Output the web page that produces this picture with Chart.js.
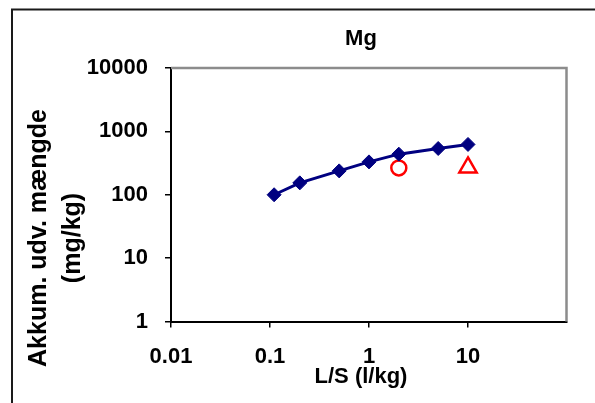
<!DOCTYPE html>
<html>
<head>
<meta charset="utf-8">
<title>Mg</title>
<script src="https://cdn.jsdelivr.net/npm/chart.js@4.4.1/dist/chart.umd.min.js"></script>
<style>
  html, body { margin: 0; padding: 0; background: #fff; }
  #wrap { width: 595px; height: 403px; }
</style>
</head>
<body>
<div id="wrap"><canvas id="chart" width="595" height="403"></canvas></div>
<script>
"use strict";

// L/S (l/kg) and accumulated Mg (mg/kg), column test
const lsValues = [0.11, 0.2, 0.5, 1, 2, 5, 10];
const mgAccum = [100, 154, 238, 330, 437, 537, 622];

// single batch results (red markers)
const batchCircleLS = [2];
const batchCircleMg = [265];
const batchTriangleLS = [10];
const batchTriangleMg = [270];

const xTicks = [0.01, 0.1, 1, 10];
const yTicks = [1, 10, 100, 1000, 10000];

const chartTitle = "Mg";
const xTitle = "L/S (l/kg)";
const yTitle = ["Akkum. udv. mængde", "(mg/kg)"];

(function() {
  window.addEventListener("load", init);

  const FONT = "'Liberation Sans', Arial, sans-serif";

  function pts(xs, ys) {
    return xs.map((x, i) => ({x: x, y: ys[i]}));
  }

  function fmt(v) {
    // 0.01 etc, no exponent
    return String(Number(v.toPrecision(3)));
  }

  // frame, plot border and titles
  const decor = {
    id: "decor",
    beforeDatasetsDraw(chart) {
      const ctx = chart.ctx;
      const a = chart.chartArea;
      ctx.save();
      ctx.strokeStyle = "#8c8c8c";
      ctx.lineWidth = 2.5;
      ctx.beginPath();
      ctx.moveTo(a.left, 68);
      ctx.lineTo(566.5, 68);
      ctx.lineTo(566.5, a.bottom);
      ctx.stroke();
      ctx.restore();
    },
    afterDraw(chart) {
      const ctx = chart.ctx;
      ctx.save();
      ctx.strokeStyle = "#1a1a1a";
      ctx.lineWidth = 2;
      ctx.beginPath();
      ctx.moveTo(12, 403);
      ctx.lineTo(12, 9.5);
      ctx.lineTo(595, 9.5);
      ctx.stroke();

      ctx.fillStyle = "#000";
      ctx.textAlign = "center";
      ctx.textBaseline = "middle";
      ctx.font = "bold 22px " + FONT;
      ctx.fillText(chartTitle, 361, 39);
      ctx.font = "bold 22px " + FONT;
      ctx.fillText(xTitle, 361, 377);

      ctx.translate(0, 238);
      ctx.rotate(-Math.PI / 2);
      ctx.font = "bold 25px " + FONT;
      ctx.fillText(yTitle[0], 0, 39);
      ctx.fillText(yTitle[1], 0, 73);
      ctx.restore();
    }
  };

  function init() {
    new Chart(id("chart"), {
      type: "line",
      data: {
        datasets: [
          {
            label: "Mg",
            data: pts(lsValues, mgAccum),
            borderColor: "#000080",
            backgroundColor: "#000080",
            borderWidth: 3,
            pointStyle: "rectRot",
            pointRadius: 7,
            pointBorderWidth: 1,
            tension: 0
          },
          {
            label: "batch 1",
            data: pts(batchCircleLS, batchCircleMg),
            showLine: false,
            borderColor: "#ff0000",
            backgroundColor: "rgba(0,0,0,0)",
            pointStyle: "circle",
            pointRadius: 7.5,
            pointBorderWidth: 2.5
          },
          {
            label: "batch 2",
            data: pts(batchTriangleLS, batchTriangleMg),
            showLine: false,
            borderColor: "#ff0000",
            backgroundColor: "rgba(0,0,0,0)",
            pointStyle: "triangle",
            pointRadius: 10,
            pointBorderWidth: 2.5
          }
        ]
      },
      options: {
        responsive: false,
        animation: false,
        layout: { padding: { left: 0, top: 68, right: 28, bottom: 0 } },
        plugins: {
          legend: { display: false },
          title: { display: false },
          tooltip: { enabled: false }
        },
        scales: {
          x: {
            type: "logarithmic",
            min: 0.01,
            max: 100,
            afterBuildTicks: s => { s.ticks = xTicks.map(v => ({value: v})); },
            afterFit: s => { s.height = 81.5; },
            grid: { drawOnChartArea: false, drawTicks: true, tickLength: 6, color: "#000", lineWidth: 1.5 },
            border: { color: "#000", width: 2 },
            ticks: {
              autoSkip: false,
              maxRotation: 0,
              padding: 16,
              color: "#000",
              font: { family: FONT, size: 22, weight: "bold" },
              callback: v => fmt(v)
            }
          },
          y: {
            type: "logarithmic",
            min: 1,
            max: 10000,
            afterBuildTicks: s => { s.ticks = yTicks.map(v => ({value: v})); },
            afterFit: s => { s.width = 171; },
            grid: { drawOnChartArea: false, drawTicks: true, tickLength: 6, color: "#000", lineWidth: 1.5 },
            border: { color: "#000", width: 2 },
            ticks: {
              autoSkip: false,
              padding: 17,
              color: "#000",
              font: { family: FONT, size: 22, weight: "bold" },
              callback: v => fmt(v)
            }
          }
        }
      },
      plugins: [decor]
    });
  }

  function id(name) {
    return document.getElementById(name);
  }
})();
</script>
</body>
</html>
